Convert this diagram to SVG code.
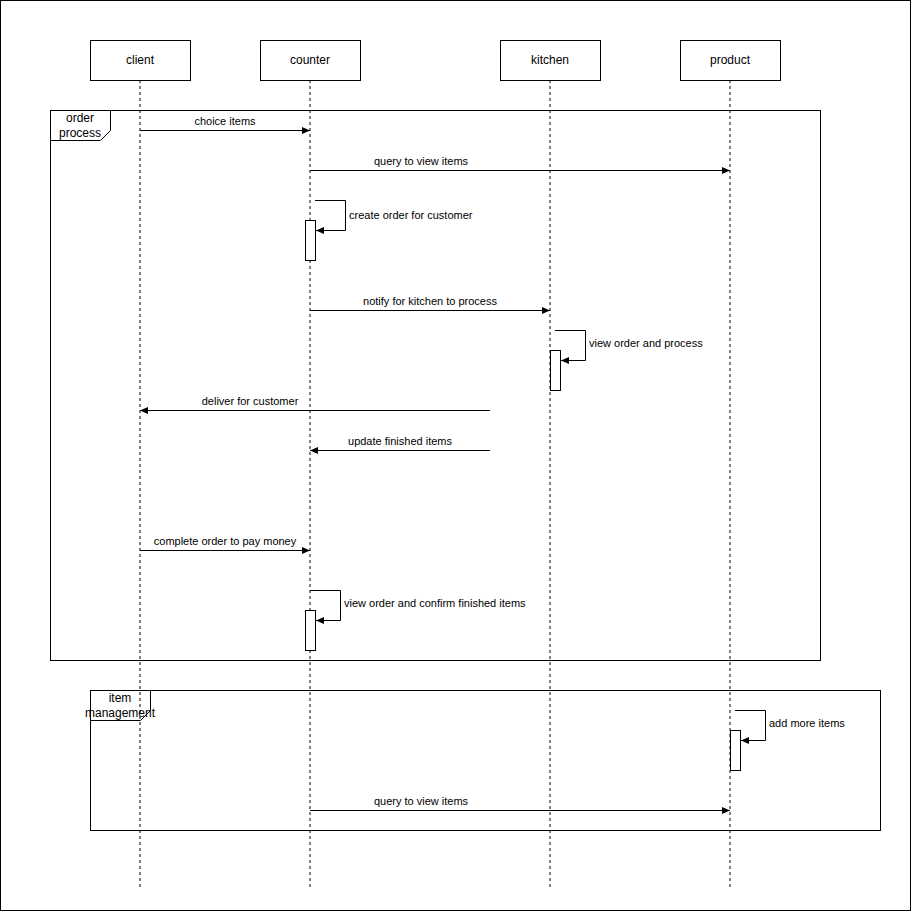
<svg xmlns="http://www.w3.org/2000/svg" width="911" height="911" viewBox="0 0 911 911">
<defs>
<marker id="arr" markerWidth="10" markerHeight="8" refX="9" refY="4" orient="auto" markerUnits="userSpaceOnUse">
<path d="M1,0.5 L9,4 L1,7.5 Z" fill="#000"/>
</marker>
<style>
.box{fill:#fff;stroke:#000;stroke-width:1}
.life{stroke:#000;stroke-width:1;stroke-dasharray:3 3;fill:none}
.msg{stroke:#000;stroke-width:1;fill:none;marker-end:url(#arr)}
.act{fill:#fff;stroke:#000;stroke-width:1}
.frame{fill:none;stroke:#000;stroke-width:1}
text{font-family:"Liberation Sans",Arial,sans-serif;font-size:11px;fill:#000}
.lbl{text-anchor:middle}
.flbl{text-anchor:middle;font-size:12px}
.hdr{font-size:12px;text-anchor:middle}
</style>
</defs>
<rect x="0.5" y="0.5" width="910" height="910" fill="#fff" stroke="#000"/>
<g id="lifelines">
<line class="life" x1="140" y1="80" x2="140" y2="888"/>
<line class="life" x1="310" y1="80" x2="310" y2="888"/>
<line class="life" x1="550" y1="80" x2="550" y2="888"/>
<line class="life" x1="730" y1="80" x2="730" y2="888"/>
</g>
<g id="frame-order">
<rect class="frame" x="50.5" y="110.5" width="770" height="550"/>
<path class="frame" d="M50.5,110.5 H110.5 V130.5 L100.5,140.5 H50.5 Z"/>
<text class="flbl" x="80" y="122">order</text>
<text class="flbl" x="80" y="137">process</text>
</g>
<g id="frame-item">
<rect class="frame" x="90.5" y="690.5" width="790" height="140"/>
<path class="frame" d="M90.5,690.5 H150.5 V710.5 L140.5,720.5 H90.5 Z"/>
<text class="flbl" x="120" y="702">item</text>
<text class="flbl" x="120" y="717">management</text>
</g>
<g id="client"><rect class="box" x="90.5" y="40.5" width="100" height="40"/><text class="hdr" x="140" y="64">client</text></g>
<g id="counter"><rect class="box" x="260.5" y="40.5" width="100" height="40"/><text class="hdr" x="310" y="64">counter</text></g>
<g id="kitchen"><rect class="box" x="500.5" y="40.5" width="100" height="40"/><text class="hdr" x="550" y="64">kitchen</text></g>
<g id="product"><rect class="box" x="680.5" y="40.5" width="100" height="40"/><text class="hdr" x="730" y="64">product</text></g>
<g id="activations">
<rect class="act" x="305.5" y="220.5" width="10" height="40"/>
<rect class="act" x="550.5" y="350.5" width="10" height="40"/>
<rect class="act" x="305.5" y="610.5" width="10" height="40"/>
<rect class="act" x="730.5" y="730.5" width="10" height="40"/>
</g>
<g id="connectors">
<line class="msg" x1="140" y1="130.5" x2="310" y2="130.5"/>
<text class="lbl" x="225" y="125">choice items</text>
<line class="msg" x1="310" y1="170.5" x2="730" y2="170.5"/>
<text class="lbl" x="421" y="165">query to view items</text>
<path class="msg" d="M315,200.5 H345.5 V230.5 H316"/>
<text x="349" y="219">create order for customer</text>
<line class="msg" x1="310" y1="310.5" x2="550" y2="310.5"/>
<text class="lbl" x="430" y="305">notify for kitchen to process</text>
<path class="msg" d="M555,330.5 H585.5 V360.5 H561"/>
<text x="589" y="347">view order and process</text>
<line class="msg" x1="490" y1="410.5" x2="140" y2="410.5"/>
<text class="lbl" x="250" y="405">deliver for customer</text>
<line class="msg" x1="490" y1="450.5" x2="310" y2="450.5"/>
<text class="lbl" x="400" y="445">update finished items</text>
<line class="msg" x1="140" y1="550.5" x2="310" y2="550.5"/>
<text class="lbl" x="225" y="545">complete order to pay money</text>
<path class="msg" d="M310,590.5 H340.5 V620.5 H316"/>
<text x="344" y="607">view order and confirm finished items</text>
<path class="msg" d="M735,710.5 H765.5 V740.5 H741"/>
<text x="769" y="727">add more items</text>
<line class="msg" x1="310" y1="810.5" x2="730" y2="810.5"/>
<text class="lbl" x="421" y="805">query to view items</text>
</g>
</svg>
